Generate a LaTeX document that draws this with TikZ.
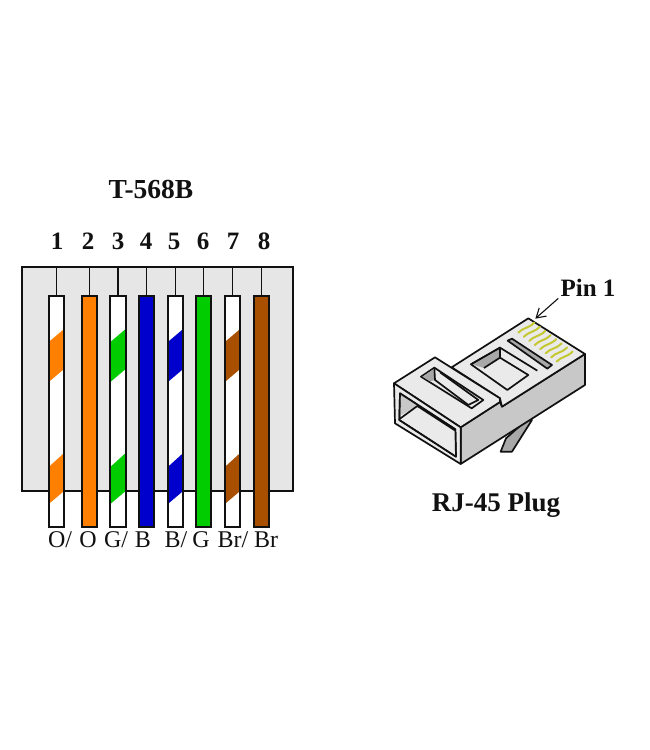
\documentclass[tikz,border=0pt]{standalone}
\usepackage{fontspec}
\setmainfont{Liberation Serif}
\usetikzlibrary{arrows.meta}
\definecolor{wo}{HTML}{FF8000}
\definecolor{wg}{HTML}{00CC00}
\definecolor{wb}{HTML}{0000CC}
\definecolor{wr}{HTML}{A85000}
\definecolor{panelgray}{HTML}{E6E6E6}
\definecolor{plugtop}{HTML}{EAEAEA}
\definecolor{plugside}{HTML}{C8C8C8}
\definecolor{pluggray}{HTML}{A8A8A8}
\definecolor{contact}{HTML}{C4C832}
\definecolor{ink}{HTML}{111111}
\tikzset{
  x=1pt,y=-1pt,
  titletext/.style={font=\fontsize{27.5}{27.5}\selectfont\bfseries,text=ink,inner sep=0pt},
  plugtext/.style={font=\fontsize{27}{27}\selectfont\bfseries,text=ink,inner sep=0pt},
  pintext/.style={font=\fontsize{25}{25}\selectfont\bfseries,text=ink,inner sep=0pt},
  labeltext/.style={font=\fontsize{24}{24}\selectfont,text=ink,inner sep=0pt},
  panelbox/.style={draw=ink,line width=2pt,fill=panelgray,minimum width=271pt,minimum height=224pt,inner sep=0pt},
  wirebox/.style={minimum width=15.5pt,minimum height=231pt,inner sep=0pt,outer sep=0pt},
  wireline/.style={draw=ink,line width=2pt},
  stemline/.style={draw=ink,line width=1.8pt},
  plugline/.style={draw=ink,line width=1.7pt,line join=round},
  contactline/.style={draw=contact,line width=2pt,line cap=round},
}
\begin{document}
\begin{tikzpicture}
\useasboundingbox (0,0) rectangle (650,750);
\fill[white] (0,0) rectangle (650,750);
\node[titletext] (title) at (151,189) {T-568B};
\node[panelbox] (panel) at (157,379) {};
\foreach \i/\cx/\base/\stripe in {1/56.4/white/wo,2/89.4/wo/wo,3/118/white/wg,4/146.5/wb/wb,5/175.5/white/wb,6/203.5/wg/wg,7/232.5/white/wr,8/261.5/wr/wr}{
  \node[wirebox,fill=\base] (w\i) at (\cx,411.5) {};
  \fill[\stripe] (\cx-7.7,342) -- (\cx+7.7,329) -- (\cx+7.7,369) -- (\cx-7.7,382) -- cycle;
  \fill[\stripe] (\cx-7.7,467) -- (\cx+7.7,453) -- (\cx+7.7,491) -- (\cx-7.7,504) -- cycle;
  \draw[wireline] (w\i.south west) rectangle (w\i.north east);
  \draw[stemline] (w\i.north) -- (w\i.north |- panel.north);
}
\foreach \i/\x in {1/57,2/88,3/118,4/146,5/174,6/203,7/233,8/264}{
  \node[pintext] (n\i) at (\x,241) {\i};
}
\foreach \n/\x/\t in {a/60/{O/},b/88/{O},c/116/{G/},d/143/{B},e/176/{B/},f/201/{G},g/233/{Br/},h/266/{Br}}{
  \node[labeltext] (l\n) at (\x,540) {\t};
}
\begin{scope}[shift={(380,270)},x=0.3333pt,y=-0.3333pt]
  % latch tab
  \filldraw[plugline,fill=pluggray] (438,452) -- (456,450) -- (396,545) -- (362,545) -- (378,505) -- cycle;
  % side face
  \filldraw[plugline,fill=plugside] (242,472) -- (360,396) -- (366,410) -- (615,252) -- (615,345) -- (242,582) -- cycle;
  % top of rear body
  \filldraw[plugline,fill=plugtop] (215,292) -- (445,145) -- (615,252) -- (366,410) -- (360,385) -- cycle;
  % contacts
  \foreach \k in {0,...,7}{
    \draw[contactline,shift={(\k*16.4,\k*12.4)}] (415,188) .. controls (430,172) and (445,176) .. (463,158);
  }
  % rear window
  \filldraw[plugline,fill=plugtop] (273,283) -- (360,233) -- (360,263) -- (445,315) -- (382,360) -- cycle;
  \fill[pluggray] (278,284) -- (358,237) -- (358,263) -- (312,294) -- cycle;
  \draw[plugline] (273,283) -- (360,233) -- (360,263) -- (312,294);
  \draw[plugline] (360,233) -- (472,302);
  % rear slot
  \filldraw[plugline,fill=pluggray] (383,212) -- (396,206) -- (516,285) -- (502,296) -- cycle;
  % front section top
  \filldraw[plugline,fill=plugtop] (42,340) -- (165,262) -- (360,385) -- (360,396) -- (242,472) -- cycle;
  % front window
  \filldraw[plugline,fill=plugtop] (123,320) -- (163,293) -- (310,390) -- (275,415) -- cycle;
  \fill[pluggray] (127,320) -- (160,298) -- (165,330) -- (150,334) -- cycle;
  \draw[plugline] (163,293) -- (165,330) -- (265,405) -- (295,390) -- (180,307);
  % front face
  \filldraw[plugline,fill=plugtop] (42,340) -- (242,472) -- (242,582) -- (45,460) -- cycle;
  \filldraw[plugline,fill=white] (60,370) -- (226,478) -- (228,560) -- (58,450) -- cycle;
  \fill[plugside] (60,372) -- (112,406) -- (64,436) -- cycle;
  \fill[plugtop] (60,446) -- (112,410) -- (226,482) -- (228,558) -- cycle;
  \draw[plugline] (60,446) -- (112,408) -- (226,482);
  \draw[plugline] (60,370) -- (226,478) -- (228,560) -- (58,450) -- cycle;
  % pin 1 label and arrow
  \node[pintext] (pin) at (624,52) {Pin 1};
  \coordinate (pintail) at (535,85);
  \coordinate (pintip) at (466,146);
  \draw[draw=ink,line width=1.1pt,-{Straight Barb[length=9pt,width=11pt]}] (pintail) -- (pintip);
\end{scope}
\node[plugtext] (plug) at (496,505) {RJ-45 Plug};
\end{tikzpicture}
\end{document}
